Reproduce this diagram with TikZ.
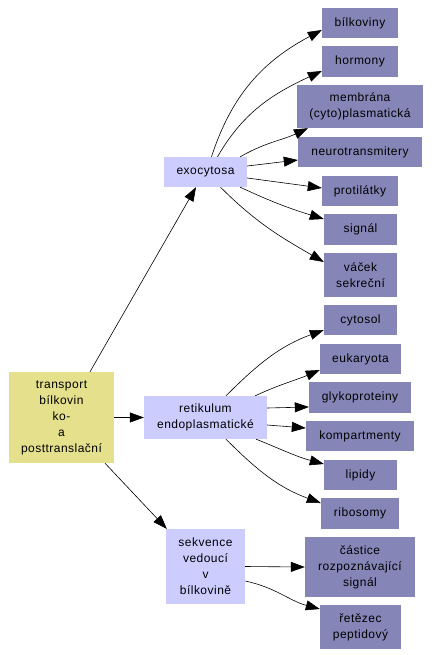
\documentclass[tikz,border=0pt]{standalone}
\usepackage{fontspec}
\setmainfont{Liberation Sans}[LetterSpace=4]
\usetikzlibrary{arrows.meta}
\definecolor{yel}{HTML}{E4E08C}
\definecolor{lite}{HTML}{CCCCFF}
\definecolor{dark}{HTML}{8585B8}
\begin{document}
\begin{tikzpicture}[x=1pt,y=1pt,
  box/.style={inner sep=0pt, align=center, font=\fontsize{12}{16}\selectfont},
  rootbox/.style={box, fill=yel},
  midbox/.style={box, fill=lite},
  leafbox/.style={box, fill=dark},
  arr/.style={line width=0.6pt, -{Triangle[length=14pt,width=10pt]}}]
\useasboundingbox[fill=white] (0,0) rectangle (431,-655);
% root
\node[rootbox, minimum width=105pt, minimum height=91pt] (tr) at (61.5,-417.5) {transport\\bílkovin\\ko-\\a\\posttranslační};
% middle
\node[midbox, minimum width=83pt, minimum height=30pt] (exo) at (205.5,-172) {exocytosa};
\node[midbox, minimum width=123pt, minimum height=43pt] (ret) at (205.5,-417.5) {retikulum\\endoplasmatické};
\node[midbox, minimum width=79pt, minimum height=75pt] (sek) at (205.5,-566.5) {sekvence\\vedoucí\\v\\bílkovině};
% leaves
\node[leafbox, minimum width=76pt, minimum height=30pt] (bil) at (360,-23) {bílkoviny};
\node[leafbox, minimum width=76pt, minimum height=31pt] (hor) at (360,-61.5) {hormony};
\node[leafbox, minimum width=126pt, minimum height=43pt] (mem) at (360,-106.5) {membrána\\(cyto)plasmatická};
\node[leafbox, minimum width=124pt, minimum height=30pt] (neu) at (360,-152) {neurotransmitery};
\node[leafbox, minimum width=76pt, minimum height=30pt] (pro) at (360,-191) {protilátky};
\node[leafbox, minimum width=73pt, minimum height=31pt] (sig) at (360.5,-229.5) {signál};
\node[leafbox, minimum width=73pt, minimum height=44pt] (vac) at (360.5,-275) {váček\\sekreční};
\node[leafbox, minimum width=73pt, minimum height=30pt] (cyt) at (360.5,-320) {cytosol};
\node[leafbox, minimum width=81pt, minimum height=30pt] (euk) at (360.5,-359) {eukaryota};
\node[leafbox, minimum width=102pt, minimum height=31pt] (gly) at (360,-397.5) {glykoproteiny};
\node[leafbox, minimum width=108pt, minimum height=30pt] (kom) at (360,-436) {kompartmenty};
\node[leafbox, minimum width=73pt, minimum height=30pt] (lip) at (360.5,-475) {lipidy};
\node[leafbox, minimum width=78pt, minimum height=31pt] (rib) at (360,-513.5) {ribosomy};
\node[leafbox, minimum width=110pt, minimum height=60pt] (cas) at (360,-567) {částice\\rozpoznávající\\signál};
\node[leafbox, minimum width=81pt, minimum height=44pt] (rez) at (360.5,-627) {řetězec\\peptidový};
% root edges
\draw[arr] ([xshift=28.5pt]tr.north) -- ([xshift=-9.5pt]exo.south);
\draw[arr] (tr.east) -- (ret.west);
\draw[arr] ([xshift=43.5pt]tr.south) -- ([xshift=1pt]sek.north west);
% exocytosa edges
\draw[arr] ([xshift=6pt]exo.north) to[out=72,in=208] ([yshift=-7pt]bil.west);
\draw[arr] ([xshift=12pt]exo.north) to[out=60,in=205] ([yshift=-9.5pt]hor.west);
\draw[arr] ([xshift=-7pt]exo.north east) to[out=30,in=205] ([xshift=-52pt]mem.south);
\draw[arr] ([yshift=6pt]exo.east) -- ([yshift=-8pt]neu.west);
\draw[arr] ([yshift=-6pt]exo.east) -- ([yshift=3pt]pro.west);
\draw[arr] ([xshift=-7pt]exo.south east) to[out=-25,in=163] ([yshift=10.5pt]sig.west);
\draw[arr] ([xshift=15pt]exo.south) to[out=-45,in=150] ([yshift=13pt]vac.west);
% retikulum edges
\draw[arr] ([xshift=20.5pt]ret.north) to[out=45,in=200] ([yshift=-10pt]cyt.west);
\draw[arr] ([xshift=-12pt]ret.north east) to[out=25,in=203] ([yshift=-11pt]euk.west);
\draw[arr] ([yshift=9.5pt]ret.east) -- ([yshift=-9.5pt]gly.west);
\draw[arr] ([yshift=-7.5pt]ret.east) -- ([yshift=8pt]kom.west);
\draw[arr] ([xshift=-11pt]ret.south east) to[out=-22,in=165] ([yshift=11pt]lip.west);
\draw[arr] ([xshift=20.5pt]ret.south) to[out=-45,in=160] ([yshift=10.5pt]rib.west);
% sekvence edges
\draw[arr] (sek.east) -- (cas.west);
\draw[arr] ([yshift=-14.5pt]sek.east) to[out=-12,in=165] ([yshift=18pt]rez.west);
\end{tikzpicture}
\end{document}
